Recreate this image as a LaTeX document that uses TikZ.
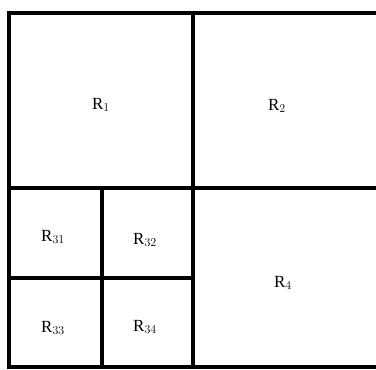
\documentclass[tikz,border=0pt]{standalone}
\usepackage{fontspec}
\setmainfont{Liberation Serif}
\begin{document}
\begin{tikzpicture}[x=1pt,y=-1pt,
  edge/.style={line width=3.3pt,line cap=rect},
  lbl/.style={inner sep=0pt,font=\fontsize{17}{20}\selectfont}]
\useasboundingbox (0,0) rectangle (376,370);
\fill[white] (0,0) rectangle (376,370);
\coordinate (tl) at (9,13);
\coordinate (tr) at (377,13);
\coordinate (bl) at (9,367);
\coordinate (br) at (377,367);
\coordinate (mt) at (193,13);
\coordinate (mb) at (193,367);
\coordinate (ml) at (9,188);
\coordinate (mr) at (377,188);
\coordinate (st) at (102,188);
\coordinate (sb) at (102,367);
\coordinate (sl) at (9,278);
\coordinate (sr) at (193,278);
\draw[edge] (tr) -- (tl) -- (bl) -- (br);
\draw[edge] (mt) -- (mb);
\draw[edge] (ml) -- (mr);
\draw[edge] (st) -- (sb);
\draw[edge] (sl) -- (sr);
\node[lbl] (r1) at (101,105) {R$_1$};
\node[lbl] (r2) at (277,106) {R$_2$};
\node[lbl] (r31) at (53,237) {R$_{31}$};
\node[lbl] (r32) at (145,240) {R$_{32}$};
\node[lbl] (r33) at (53,328) {R$_{33}$};
\node[lbl] (r34) at (145,327) {R$_{34}$};
\node[lbl] (r4) at (283,283) {R$_4$};
\end{tikzpicture}
\end{document}
